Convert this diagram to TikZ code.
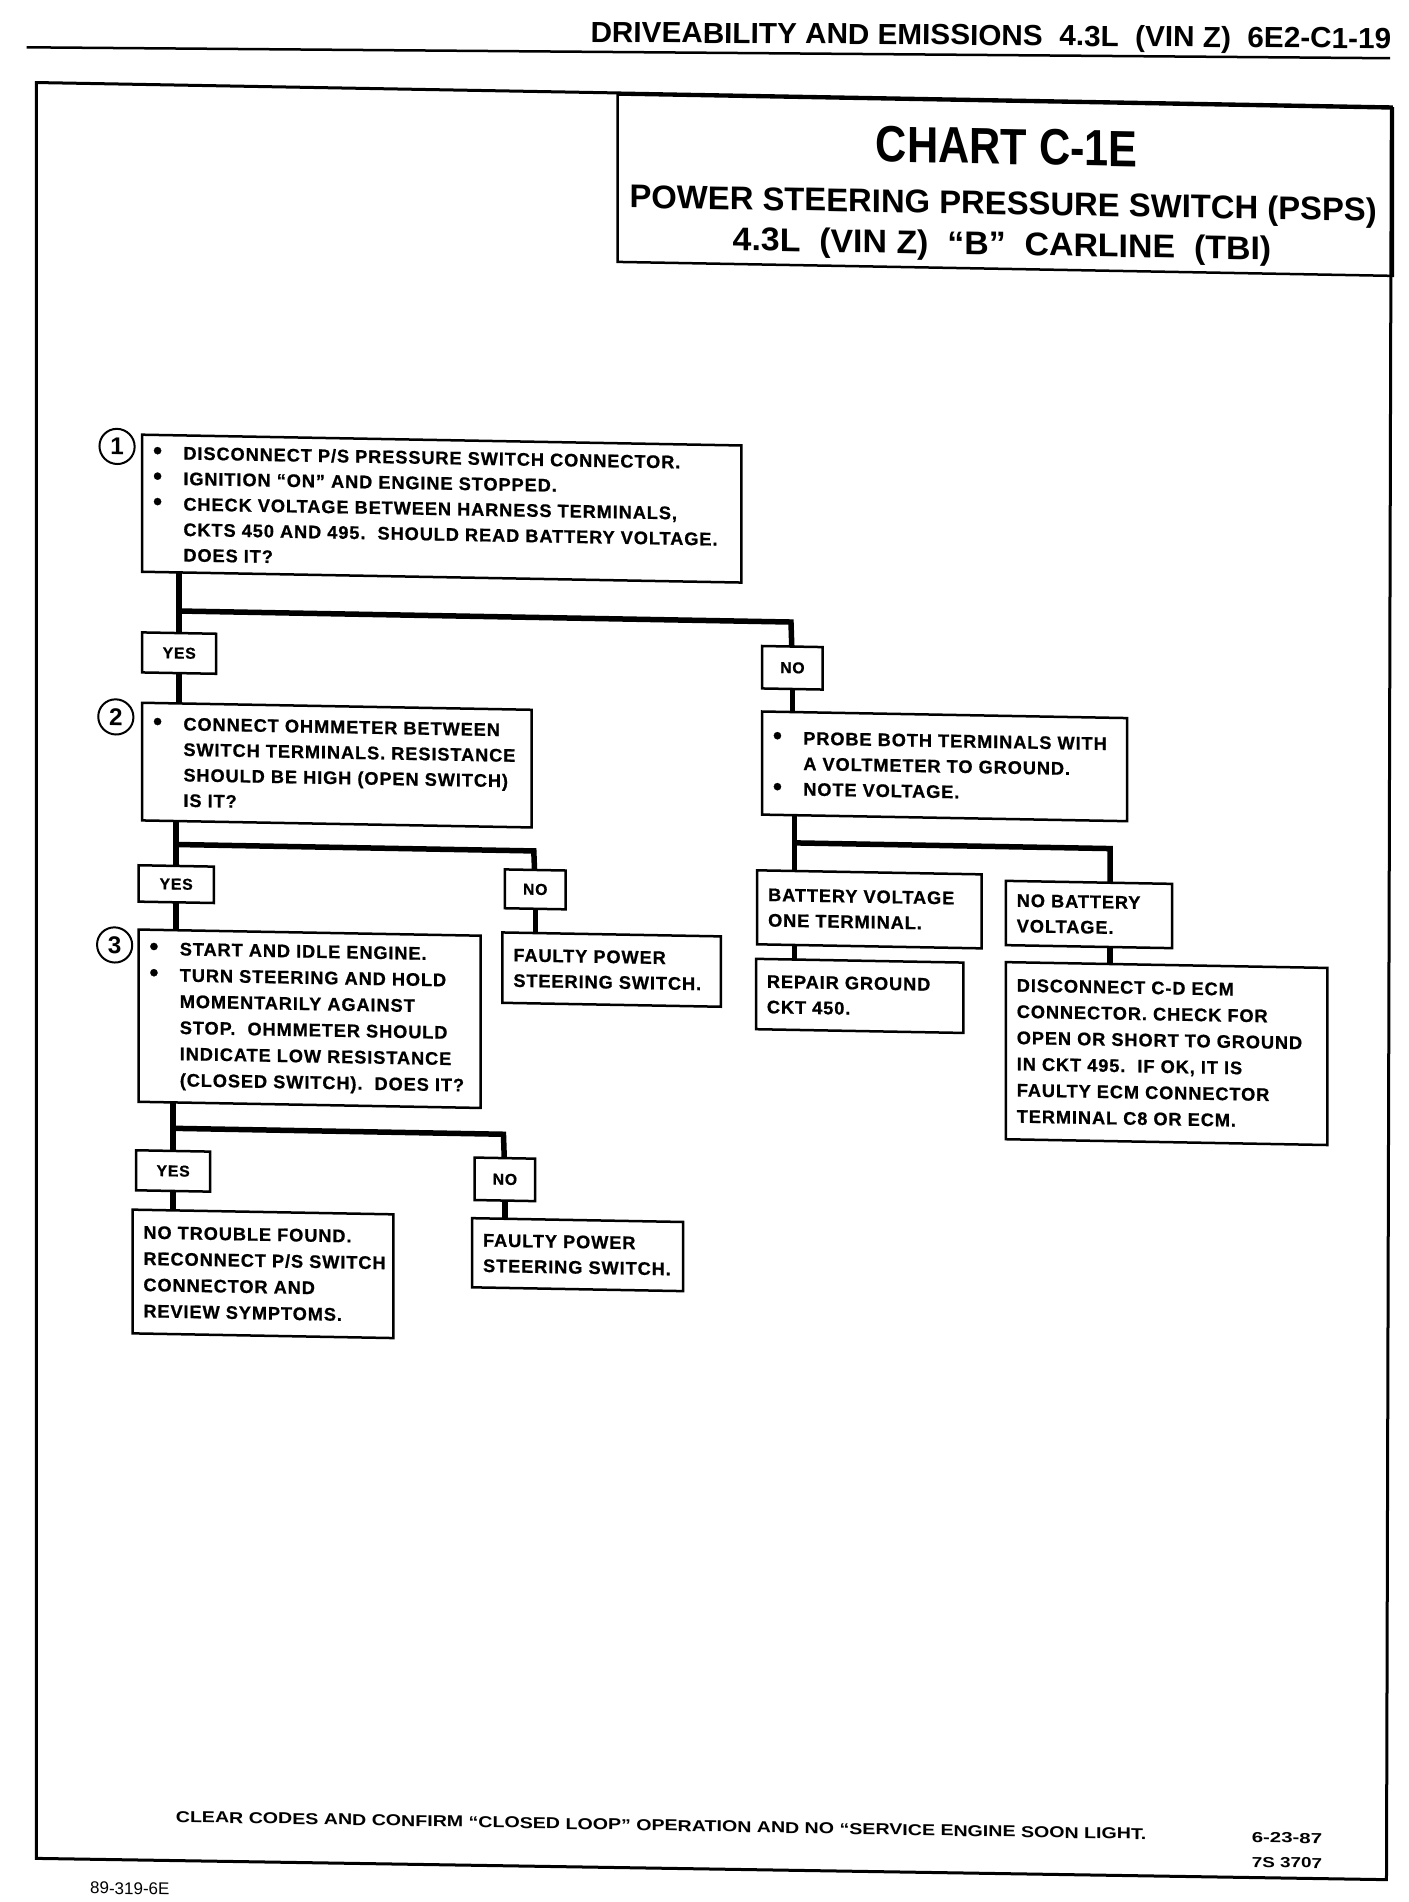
\documentclass[tikz,border=0pt]{standalone}
\usepackage{fontspec}
\setmainfont{Liberation Sans}
\newfontfamily\bodyfont{Liberation Sans}[LetterSpace=5, BoldFeatures={FakeBold=0.8}]
\usetikzlibrary{backgrounds,calc}
\newcommand\bitem[1]{\mbox{\makebox[25pt][l]{\fontsize{21}{21}\selectfont\textbullet}#1}}
\newcommand\citem[1]{\mbox{\hspace{25pt}#1}}
\newcommand\pitem[1]{\mbox{#1}}
\begin{document}
\begin{tikzpicture}[x=1pt,y=-1pt,scale=1.2127,
  every node/.style={transform shape},
  box/.style={draw, fill=white, line width=2.5pt, anchor=north west, align=left, inner xsep=9pt, inner ysep=0pt, font=\bodyfont\bfseries\fontsize{15}{21}\selectfont},
  loose/.style={font=\bodyfont\bfseries\fontsize{15}{21.6}\selectfont},
  lbl/.style={draw, fill=white, line width=2.5pt, anchor=north west, inner sep=0pt, font=\bodyfont\bfseries\fontsize{13}{13}\selectfont},
  num/.style={draw, fill=white, circle, line width=2pt, minimum size=29pt, inner sep=0pt, font=\bfseries\fontsize{20}{20}\selectfont},
  conn/.style={line width=5.5pt, line join=miter},
  pageframe/.style={line width=3pt, line join=miter},
  ttl/.style={inner sep=0pt, font=\bfseries}]
\useasboundingbox (0,0) rectangle (1161,1568);
\begin{pgfonlayer}{background}
\fill[white] (0,0) rectangle (1161,1568);
\end{pgfonlayer}
% page header
\draw[line width=2.5pt] (22,39) -- (1146,48);
\node[ttl, anchor=base east, rotate=-0.46] (hdr) at (1147,40) {\resizebox{660pt}{\height}{\fontsize{24}{24}\selectfont DRIVEABILITY AND EMISSIONS\ \ 4.3L\ \ (VIN Z)\ \ 6E2-C1-19}};
\begin{scope}[cm={1,-0.018,0,1,(0,0)}]
% title block
\node[draw, fill=white, line width=2.5pt, anchor=north west, minimum width=639pt, minimum height=138pt, inner sep=0pt] (title) at (508,67.5) {};
\node[ttl] (t1) at (830,106) {\resizebox{216pt}{\height}{\fontsize{42}{42}\selectfont CHART C-1E}};
\node[ttl] (t2) at (827,155) {\resizebox{616pt}{\height}{\fontsize{27}{27}\selectfont POWER STEERING PRESSURE SWITCH (PSPS)}};
\node[ttl] (t3) at (826,188.5) {\resizebox{444pt}{\height}{\fontsize{27}{27}\selectfont 4.3L\ \ (VIN Z)\ \ “B”\ \ CARLINE\ \ (TBI)}};
\draw[pageframe] (30,67.5) -- (1147,67.4) -- (1143,1529) -- (30,1531.5) -- cycle;
% step 1
\node[box, text width=476pt, minimum height=113pt] (b1) at (116,355) {\bitem{DISCONNECT P/S PRESSURE SWITCH CONNECTOR.}\\\bitem{IGNITION “ON” AND ENGINE STOPPED.}\\\bitem{CHECK VOLTAGE BETWEEN HARNESS TERMINALS,}\\\citem{CKTS 450 AND 495.\ \ SHOULD READ BATTERY VOLTAGE.}\\\citem{DOES IT?}};
\node[num] (c1) at (96.5,366.3) {1};
\node[lbl, minimum width=61pt, minimum height=33pt] (y1) at (116,518) {YES};
\node[lbl, minimum width=50pt, minimum height=35pt] (n1) at (627,520) {NO};
% step 2
\node[box, text width=303pt, minimum height=97pt] (b2) at (116,576) {\bitem{CONNECT OHMMETER BETWEEN}\\\citem{SWITCH TERMINALS. RESISTANCE}\\\citem{SHOULD BE HIGH (OPEN SWITCH)}\\\citem{IS IT?}};
\node[num] (c2) at (95.5,589.3) {2};
\node[box, text width=283pt, minimum height=85pt] (b4) at (627,574) {\bitem{PROBE BOTH TERMINALS WITH}\\\citem{A VOLTMETER TO GROUND.}\\\bitem{NOTE VOLTAGE.}};
\node[lbl, minimum width=62pt, minimum height=30pt] (y2) at (113,710) {YES};
\node[lbl, minimum width=50pt, minimum height=32pt] (n2) at (415,708) {NO};
% step 3
\node[box, loose, text width=264pt, minimum height=142pt] (b3) at (113,763) {\bitem{START AND IDLE ENGINE.}\\\bitem{TURN STEERING AND HOLD}\\\citem{MOMENTARILY AGAINST}\\\citem{STOP.\ \ OHMMETER SHOULD}\\\citem{INDICATE LOW RESISTANCE}\\\citem{(CLOSED SWITCH).\ \ DOES IT?}};
\node[num] (c3) at (94.5,777.3) {3};
\node[box, text width=162pt, minimum height=58pt] (fp1) at (413,760) {\pitem{FAULTY POWER}\\\pitem{STEERING SWITCH.}};
\node[box, text width=167pt, minimum height=61pt] (bv) at (623,705) {\pitem{BATTERY VOLTAGE}\\\pitem{ONE TERMINAL.}};
\node[box, text width=153pt, minimum height=58pt] (rg) at (622,778) {\pitem{REPAIR GROUND}\\\pitem{CKT 450.}};
\node[box, text width=119pt, minimum height=53pt] (nb) at (828,710) {\pitem{NO BATTERY}\\\pitem{VOLTAGE.}};
\node[box, loose, text width=247pt, minimum height=146pt] (dc) at (828,777) {\pitem{DISCONNECT C-D ECM}\\\pitem{CONNECTOR. CHECK FOR}\\\pitem{OPEN OR SHORT TO GROUND}\\\pitem{IN CKT 495.\ \ IF OK, IT IS}\\\pitem{FAULTY ECM CONNECTOR}\\\pitem{TERMINAL C8 OR ECM.}};
\node[lbl, minimum width=61pt, minimum height=33pt] (y3) at (111,945) {YES};
\node[lbl, minimum width=50pt, minimum height=35pt] (n3) at (390,946) {NO};
\node[box, loose, text width=197pt, minimum height=102pt] (nt) at (108,994) {\pitem{NO TROUBLE FOUND.}\\\pitem{RECONNECT P/S SWITCH}\\\pitem{CONNECTOR AND}\\\pitem{REVIEW SYMPTOMS.}};
\node[box, text width=156pt, minimum height=57pt] (fp2) at (388,996) {\pitem{FAULTY POWER}\\\pitem{STEERING SWITCH.}};
% footer
\node[ttl] (foot) at (545,1495) {\resizebox{800pt}{\height}{\fontsize{13}{13}\selectfont CLEAR CODES AND CONFIRM “CLOSED LOOP” OPERATION AND NO “SERVICE ENGINE SOON LIGHT.}};
\node[ttl] (d1) at (1061,1496) {\resizebox{58pt}{\height}{\fontsize{12}{12}\selectfont 6-23-87}};
\node[ttl] (d2) at (1061,1516.5) {\resizebox{58pt}{\height}{\fontsize{12}{12}\selectfont 7S 3707}};
\node[inner sep=0pt, font=\fontsize{14}{14}\selectfont] (code) at (107,1555) {89-319-6E};
% junctions
\coordinate (j1) at (146.5,501);
\coordinate (j1r) at (652,501);
\coordinate (j2) at (144,693.5);
\coordinate (j2r) at (440,693.5);
\coordinate (j3) at (141.5,927.5);
\coordinate (j3r) at (415,927.5);
\coordinate (j4) at (655,683);
\coordinate (k4) at (915,683);
\begin{pgfonlayer}{background}
\draw[conn] (b1.center -| y1.center) -- (y1.center);
\draw[conn] (j1) -- (j1r) -- (n1.center);
\draw[conn] (y1.center) -- (b2.center -| y1.center);
\draw[conn] (n1.center) -- (b4.center -| n1.center);
\draw[conn] (b2.center -| y2.center) -- (y2.center);
\draw[conn] (j2) -- (j2r) -- (n2.center);
\draw[conn] (y2.center) -- (b3.center -| y2.center);
\draw[conn] (n2.center) -- (fp1.center -| n2.center);
\draw[conn] (b3.center -| y3.center) -- (y3.center);
\draw[conn] (j3) -- (j3r) -- (n3.center);
\draw[conn] (y3.center) -- (nt.center -| y3.center);
\draw[conn] (n3.center) -- (fp2.center -| n3.center);
\draw[conn] (b4.center -| j4) -- (bv.center -| j4);
\draw[conn] (j4) -- (k4) -- (nb.center -| k4);
\draw[conn] (bv.center -| j4) -- (rg.center -| j4);
\draw[conn] (nb.center -| k4) -- (dc.center -| k4);
\end{pgfonlayer}
\end{scope}
\end{tikzpicture}
\end{document}
